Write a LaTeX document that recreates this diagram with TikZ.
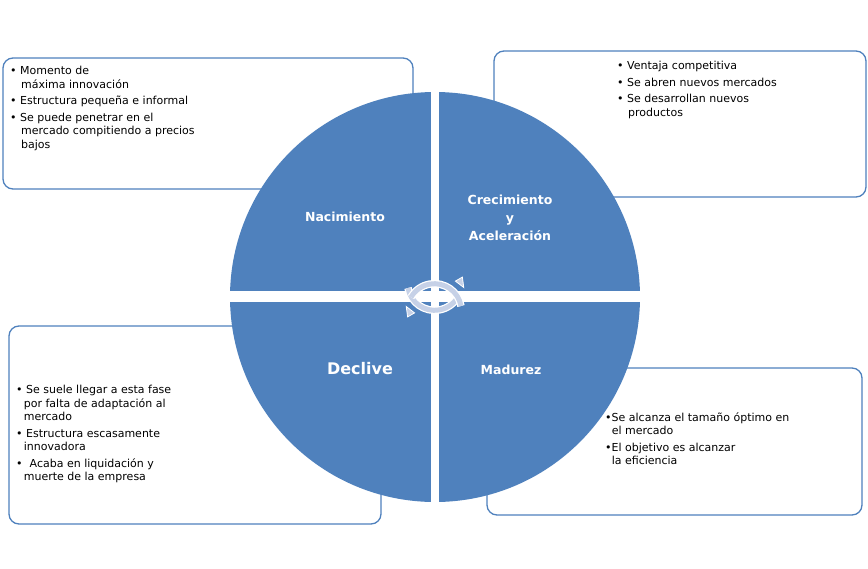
\documentclass[tikz,border=0pt]{standalone}
\usepackage{fontspec}
\setmainfont{DejaVu Sans}
\usetikzlibrary{arrows.meta,shapes.geometric}
\definecolor{fase}{HTML}{4F81BD}
\definecolor{giro}{HTML}{C6D1E7}
\tikzset{caja/.style={draw=fase, line width=1.3pt, rounded corners=10pt, fill=white},
  punta/.style={fill=giro, draw=white, line width=0.8pt, isosceles triangle, inner sep=2.2pt},
  texto/.style={align=left, font=\fontsize{11}{13.5}\selectfont, anchor=north west, inner sep=0pt},
  titulo/.style={text=white, font=\bfseries\fontsize{12.5}{18}\selectfont, align=center}}
\begin{document}
\begin{tikzpicture}[x=1pt,y=-1pt]
  \useasboundingbox (0,0) rectangle (868,568);
  % cajas
  \draw[caja] (3,58) rectangle (413,189);
  \draw[caja] (494,51) rectangle (866,197);
  \draw[caja] (9,326) rectangle (381,524);
  \draw[caja] (487,368) rectangle (862,515);
  % circulo
  \fill[fase] (435,297) circle (205);
  \fill[white] (431,80) rectangle (439,520);
  \fill[white] (220,291) rectangle (650,302);
  % flechas de giro
  \draw[white, line width=7.5pt] (408,288) arc (170:30:27);
  \draw[giro, line width=5pt] (408,288) arc (170:30:27);
  \node[punta, rotate=-60] (p1) at (460,281) {};
  \draw[white, line width=7.5pt] (461,306) arc (-10:-150:27);
  \draw[giro, line width=5pt] (461,306) arc (-10:-150:27);
  \node[punta, rotate=120] (p2) at (410,313) {};
  % titulos
  \node[titulo] (nac) at (345,217) {Nacimiento};
  \node[titulo] (cre) at (510,218) {Crecimiento\\y\\Aceleración};
  \node[titulo, font=\bfseries\fontsize{16}{18}\selectfont] (dec) at (360,369) {Declive};
  \node[titulo] (mad) at (511,370) {Madurez};
  % textos
  \node[texto] (t1) at (10,66) {• Momento de\\\hspace{1em}máxima innovación\\[3pt]• Estructura pequeña e informal\\[3pt]• Se puede penetrar en el\\\hspace{1em}mercado compitiendo a precios\\\hspace{1em}bajos};
  \node[texto] (t2) at (617,61) {• Ventaja competitiva\\[3pt]• Se abren nuevos mercados\\[3pt]• Se desarrollan nuevos\\\hspace{1em}productos};
  \node[texto] (t3) at (16,385) {• Se suele llegar a esta fase\\\hspace{0.7em}por falta de adaptación al\\\hspace{0.7em}mercado\\[3pt]• Estructura escasamente\\\hspace{0.7em}innovadora\\[3pt]•\ \ Acaba en liquidación y\\\hspace{0.7em}muerte de la empresa};
  \node[texto] (t4) at (605,412) {•Se alcanza el tamaño óptimo en\\\hspace{0.6em}el mercado\\[3pt]•El objetivo es alcanzar\\\hspace{0.6em}la eficiencia};
\end{tikzpicture}
\end{document}
